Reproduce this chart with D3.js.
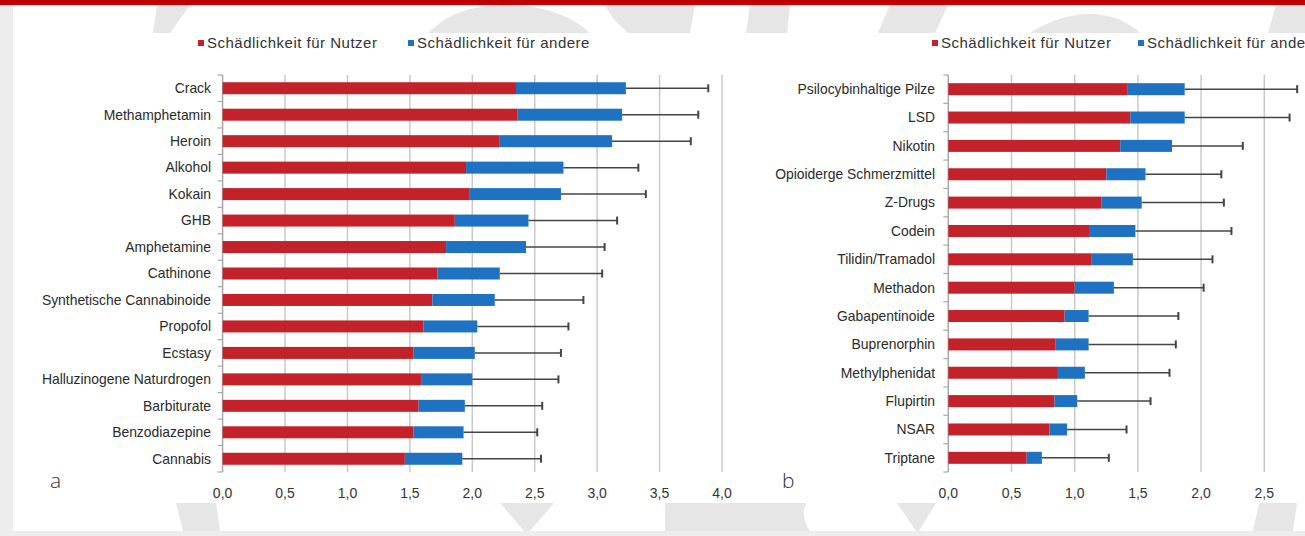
<!DOCTYPE html>
<html>
<head>
<meta charset="utf-8">
<script src="https://cdn.jsdelivr.net/npm/d3@7"></script>
<style>
  html, body { margin: 0; padding: 0; background: #fff; }
  svg { display: block; font-family: "Liberation Sans", Arial, sans-serif; }
</style>
</head>
<body>
<svg id="chart" width="1305" height="536"></svg>
<script>
'use strict';

// panel a
const catsA = ["Crack", "Methamphetamin", "Heroin", "Alkohol", "Kokain", "GHB", "Amphetamine",
  "Cathinone", "Synthetische Cannabinoide", "Propofol", "Ecstasy", "Halluzinogene Naturdrogen",
  "Barbiturate", "Benzodiazepine", "Cannabis"];
const userA = [2.35, 2.36, 2.22, 1.95, 1.98, 1.86, 1.79, 1.72, 1.68, 1.61, 1.53, 1.59, 1.57, 1.53, 1.46];
const otherA = [0.88, 0.84, 0.90, 0.78, 0.73, 0.59, 0.64, 0.50, 0.50, 0.43, 0.49, 0.41, 0.37, 0.40, 0.46];
const errA = [0.66, 0.61, 0.63, 0.60, 0.68, 0.71, 0.63, 0.82, 0.71, 0.73, 0.69, 0.69, 0.62, 0.59, 0.63];
const ticksA = [0, 0.5, 1, 1.5, 2, 2.5, 3, 3.5, 4];

// panel b (axis runs on past the right edge of the picture)
const catsB = ["Psilocybinhaltige Pilze", "LSD", "Nikotin", "Opioiderge Schmerzmittel", "Z-Drugs",
  "Codein", "Tilidin/Tramadol", "Methadon", "Gabapentinoide", "Buprenorphin", "Methylphenidat",
  "Flupirtin", "NSAR", "Triptane"];
const userB = [1.42, 1.44, 1.36, 1.25, 1.21, 1.12, 1.13, 1.00, 0.92, 0.85, 0.86, 0.84, 0.80, 0.62];
const otherB = [0.45, 0.43, 0.41, 0.31, 0.32, 0.36, 0.33, 0.31, 0.19, 0.26, 0.22, 0.18, 0.14, 0.12];
const errB = [0.89, 0.83, 0.56, 0.60, 0.65, 0.76, 0.63, 0.71, 0.71, 0.69, 0.67, 0.58, 0.47, 0.53];
const ticksB = [0, 0.5, 1, 1.5, 2, 2.5];

const legendLabels = ["Schädlichkeit für Nutzer", "Schädlichkeit für andere"];

const RED = "#c4222a";
const BLUE = "#1f71c1";
const GRID = "#c9c9c9";
const WM = "#e6e6e6";

const svg = d3.select('#chart');

// page background: red bar, grey frame, watermark
svg.append('rect').attr('x', 0).attr('y', 0).attr('width', 13).attr('height', 536).attr('fill', '#ededed');
svg.append('rect').attr('x', 0).attr('y', 531).attr('width', 1305).attr('height', 5).attr('fill', '#ededed');

const watermark = [
  "M157,5 L190,5 L170,33 L153,33 Z",
  "M428,33 Q455,5 505,5 Q560,5 590,33 Z",
  "M605,5 L695,5 L690,33 L628,33 Q612,20 605,5 Z",
  "M750,5 L790,5 L787,33 L746,33 Z",
  "M890,5 L948,5 L935,33 L878,33 Z",
  "M1030,33 Q1060,14 1090,14 Q1120,14 1140,33 Z",
  "M1276,5 L1310,5 L1310,33 L1268,33 Z",
  "M176,503 L216,503 L220,531 L183,531 Z",
  "M500,503 L554,503 L530,531 L524,531 Z",
  "M665,503 L806,503 Q800,517 810,531 L665,531 Z",
  "M897,503 L936,503 L919,531 L916,531 Z",
  "M1259,503 L1297,503 L1293,531 L1253,531 Z"
];
svg.append('g').selectAll('path').data(watermark).enter()
  .append('path').attr('d', d => d).attr('fill', WM);

svg.append('rect').attr('x', 0).attr('y', 0).attr('width', 1305).attr('height', 5).attr('fill', '#c00000');

const drawPanel = (cfg) => {
  const g = svg.append('g');

  const x = d3.scaleLinear().domain([0, cfg.max]).range([cfg.x0, cfg.x0 + cfg.max * cfg.unit]);
  const y = d3.scaleBand().domain(cfg.cats).range([75, 472]);
  const barH = 12;

  // gridlines
  g.selectAll('.grid').data(cfg.ticks.slice(1)).enter()
    .append('line')
    .attr('x1', d => x(d)).attr('x2', d => x(d))
    .attr('y1', 75).attr('y2', 472)
    .attr('stroke', GRID).attr('stroke-width', 1.5);

  // y axis with boundary ticks
  g.append('line')
    .attr('x1', x(0)).attr('x2', x(0)).attr('y1', 75).attr('y2', 472)
    .attr('stroke', '#a8a8a8').attr('stroke-width', 1.5);
  const bounds = cfg.cats.map(c => y(c)).concat([472]);
  g.selectAll('.ytick').data(bounds).enter()
    .append('line')
    .attr('x1', x(0) - 5).attr('x2', x(0))
    .attr('y1', d => d).attr('y2', d => d)
    .attr('stroke', '#a8a8a8').attr('stroke-width', 1.2);

  // category labels
  g.selectAll('.cat').data(cfg.cats).enter()
    .append('text')
    .attr('x', cfg.labelX)
    .attr('y', d => y(d) + y.bandwidth() / 2)
    .attr('dy', '0.35em')
    .attr('text-anchor', 'end')
    .attr('font-size', 13.9)
    .attr('fill', '#2a2a2a')
    .text(d => d);

  const rows = cfg.cats.map((c, i) => ({ c, u: cfg.user[i], o: cfg.other[i], e: cfg.err[i] }));

  // red segments
  g.selectAll('.user').data(rows).enter()
    .append('rect')
    .attr('x', x(0))
    .attr('y', d => y(d.c) + (y.bandwidth() - barH) / 2)
    .attr('width', d => x(d.u) - x(0))
    .attr('height', barH)
    .attr('fill', RED);

  // blue segments
  g.selectAll('.other').data(rows).enter()
    .append('rect')
    .attr('x', d => x(d.u))
    .attr('y', d => y(d.c) + (y.bandwidth() - barH) / 2)
    .attr('width', d => x(d.u + d.o) - x(d.u))
    .attr('height', barH)
    .attr('fill', BLUE);

  // error bars
  g.selectAll('.err').data(rows).enter()
    .append('line')
    .attr('x1', d => x(d.u + d.o))
    .attr('x2', d => x(d.u + d.o + d.e))
    .attr('y1', d => y(d.c) + y.bandwidth() / 2)
    .attr('y2', d => y(d.c) + y.bandwidth() / 2)
    .attr('stroke', '#444').attr('stroke-width', 1.5);
  g.selectAll('.cap').data(rows).enter()
    .append('line')
    .attr('x1', d => x(d.u + d.o + d.e))
    .attr('x2', d => x(d.u + d.o + d.e))
    .attr('y1', d => y(d.c) + y.bandwidth() / 2 - 4)
    .attr('y2', d => y(d.c) + y.bandwidth() / 2 + 4)
    .attr('stroke', '#444').attr('stroke-width', 2);

  // x tick labels
  g.selectAll('.xl').data(cfg.ticks).enter()
    .append('text')
    .attr('x', d => x(d))
    .attr('y', 493)
    .attr('dy', '0.35em')
    .attr('text-anchor', 'middle')
    .attr('font-size', 14)
    .attr('fill', '#333')
    .text(d => d3.format('.1f')(d).replace('.', ','));

  // panel letter
  g.append('text')
    .attr('x', cfg.letterX).attr('y', 488)
    .attr('font-size', 21)
    .attr('font-family', '"Open Sans", "DejaVu Sans", sans-serif')
    .attr('font-weight', 300)
    .attr('fill', '#333')
    .text(cfg.letter);

  // legend
  const lg = g.selectAll('.leg').data(legendLabels).enter()
    .append('g')
    .attr('transform', (d, i) => `translate(${cfg.legendX[i]},43)`);
  lg.append('rect').attr('x', 0).attr('y', -3).attr('width', 6).attr('height', 6)
    .attr('fill', (d, i) => i === 0 ? RED : BLUE);
  lg.append('text').attr('x', 9).attr('dy', '0.35em')
    .attr('font-size', 15).attr('letter-spacing', 0.5)
    .attr('fill', '#333').text(d => d);
};

// white chart area over the watermark
svg.append('rect').attr('x', 13).attr('y', 33).attr('width', 1292).attr('height', 470).attr('fill', '#fff');

drawPanel({ cats: catsA, user: userA, other: otherA, err: errA, ticks: ticksA,
  max: 4, x0: 222.6, unit: 124.85, labelX: 211, letter: 'a', letterX: 50, legendX: [198, 408] });
drawPanel({ cats: catsB, user: userB, other: otherB, err: errB, ticks: ticksB,
  max: 3, x0: 948.3, unit: 126.4, labelX: 935, letter: 'b', letterX: 782, legendX: [932, 1138] });
</script>
</body>
</html>
